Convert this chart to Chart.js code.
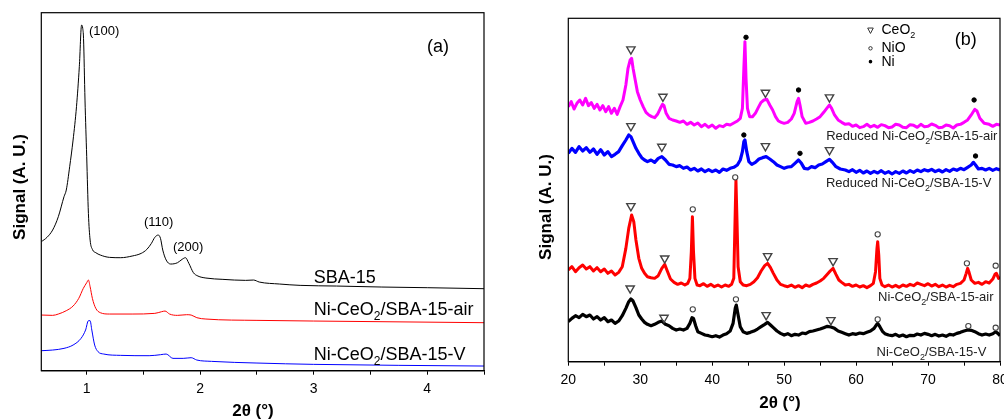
<!DOCTYPE html>
<html><head><meta charset="utf-8">
<script src="https://cdn.jsdelivr.net/npm/chart.js@4.4.0/dist/chart.umd.min.js"></script>
<style>
html,body{margin:0;padding:0;background:#fff;}
#wrap{position:relative;width:1004px;height:420px;overflow:hidden;background:#fff;}
canvas{position:absolute;top:0;}
</style></head><body>
<div id="wrap"><canvas id="ca" width="500" height="420" style="left:0"></canvas><canvas id="cb" width="520" height="420" style="left:500px"></canvas></div>
<script>
// ---------- Panel (a): small-angle XRD ----------
const sba15 = [[0.6,387],[0.65,400],[0.7,422],[0.75,462],[0.8,522],[0.82,542],[0.85,612],[0.88,692],[0.91,792],[0.935,912],[0.955,1037],[0.965,1027],[0.972,997],[0.985,812],[1.0,642],[1.015,472],[1.03,392],[1.05,364],[1.08,354],[1.12,347],[1.2,340],[1.3,339],[1.4,344],[1.48,352],[1.53,364],[1.57,382],[1.6,400],[1.63,407],[1.65,397],[1.67,362],[1.7,332],[1.74,320],[1.8,324],[1.84,334],[1.87,339],[1.9,322],[1.94,294],[1.98,284],[2.05,278],[2.2,274],[2.4,271],[2.47,272],[2.52,266],[2.7,260],[2.88,256],[3.2,254],[3.6,251],[4.0,249],[4.5,246]];
const niAir = [[0.6,167],[0.7,166],[0.75,170],[0.82,180],[0.88,194],[0.93,217],[0.97,247],[1.0,264],[1.015,272],[1.03,252],[1.05,217],[1.08,187],[1.12,174],[1.2,170],[1.4,170],[1.6,172],[1.66,177],[1.69,179],[1.73,170],[1.8,166],[1.88,168],[1.92,167],[1.97,159],[2.05,155],[2.5,151],[3.0,149],[4.5,144]];
const niV = [[0.6,60],[0.7,62],[0.8,67],[0.88,77],[0.95,97],[0.99,122],[1.015,150],[1.03,150],[1.045,122],[1.07,77],[1.1,57],[1.15,50],[1.3,46],[1.55,45],[1.65,48],[1.7,50],[1.76,37],[1.85,37],[1.92,39],[1.97,32],[2.1,28],[2.5,23],[3.0,19],[4.5,14]];

// ---------- Panel (b): wide-angle XRD ----------
const redAirB = [[20.0,765],[20.4,780],[20.8,758],[21.2,775],[21.6,785],[22.0,770],[22.4,790],[22.8,768],[23.2,777],[23.6,760],[24.0,772],[24.4,755],[24.8,768],[25.2,750],[25.6,765],[26.0,745],[26.4,760],[26.8,742],[27.2,765],[27.6,785],[28.0,830],[28.3,880],[28.6,905],[28.8,910],[29.0,880],[29.3,845],[29.6,810],[30.0,785],[30.4,765],[30.8,748],[31.2,740],[31.6,735],[32.0,732],[32.4,742],[32.8,760],[33.1,772],[33.3,768],[33.6,745],[34.0,730],[34.5,725],[35.0,722],[35.5,718],[36.0,722],[36.5,712],[37.0,718],[37.5,710],[38.0,716],[38.5,705],[39.0,712],[39.5,703],[40.0,710],[40.5,700],[41.0,708],[41.5,705],[42.0,712],[42.5,710],[43.0,716],[43.5,722],[43.9,730],[44.2,760],[44.4,880],[44.55,960],[44.7,850],[44.9,760],[45.2,735],[45.6,735],[46.0,745],[46.4,762],[46.8,778],[47.2,785],[47.6,787],[48.0,770],[48.4,755],[48.8,735],[49.2,722],[49.6,718],[50.0,715],[50.5,718],[51.0,728],[51.4,745],[51.8,780],[52.0,790],[52.2,770],[52.5,735],[53.0,715],[53.5,718],[54.0,722],[54.5,728],[55.0,735],[55.5,748],[56.0,762],[56.3,770],[56.6,760],[57.0,740],[57.5,725],[58.0,718],[58.5,712],[59.0,714],[59.5,706],[60.0,710],[60.5,702],[61.0,705],[61.5,712],[62.0,704],[62.5,709],[63.0,703],[63.5,711],[64.0,708],[64.5,702],[65.0,704],[65.5,712],[66.0,710],[66.5,703],[67.0,702],[67.5,711],[68.0,709],[68.5,703],[69.0,712],[69.5,705],[70.0,706],[70.5,713],[71.0,709],[71.5,702],[72.0,703],[72.5,710],[73.0,708],[73.5,701],[74.0,710],[74.5,712],[75.0,718],[75.5,725],[76.0,740],[76.5,757],[76.8,752],[77.2,730],[77.8,715],[78.5,712],[79.0,706],[79.5,712],[80.0,710]];
const redVB = [[20.0,625],[20.5,640],[21.0,628],[21.5,645],[22.0,632],[22.5,642],[23.0,628],[23.5,638],[24.0,622],[24.5,636],[25.0,620],[25.5,630],[26.0,615],[26.5,622],[27.0,630],[27.5,648],[28.0,665],[28.4,680],[28.7,675],[29.0,660],[29.4,640],[29.8,625],[30.2,612],[30.6,605],[31.0,600],[31.5,605],[32.0,598],[32.5,610],[33.0,615],[33.5,605],[34.0,592],[34.5,590],[35.0,585],[35.5,588],[36.0,580],[36.5,584],[37.0,575],[37.5,580],[38.0,572],[38.5,578],[39.0,570],[39.5,576],[40.0,570],[40.5,575],[41.0,568],[41.5,578],[42.0,574],[42.5,580],[43.0,583],[43.5,590],[43.9,605],[44.2,630],[44.4,660],[44.55,665],[44.8,630],[45.1,600],[45.5,592],[46.0,598],[46.5,608],[47.0,612],[47.5,615],[48.0,608],[48.5,600],[49.0,590],[49.5,585],[50.0,580],[50.5,584],[51.0,585],[51.5,595],[52.0,605],[52.4,595],[52.8,580],[53.3,578],[53.8,585],[54.3,582],[54.8,590],[55.3,593],[55.8,600],[56.3,607],[56.7,598],[57.2,585],[57.8,578],[58.5,575],[59.0,570],[59.5,576],[60.0,568],[60.5,574],[61.0,566],[61.5,572],[62.0,565],[62.5,571],[63.0,566],[63.5,573],[64.0,565],[64.5,570],[65.0,563],[65.5,570],[66.0,565],[66.5,572],[67.0,566],[67.5,573],[68.0,568],[68.5,575],[69.0,570],[69.5,576],[70.0,572],[70.5,577],[71.0,570],[71.5,575],[72.0,569],[72.5,576],[73.0,571],[73.5,578],[74.0,574],[74.5,580],[75.0,576],[75.5,583],[76.0,590],[76.3,598],[76.6,590],[77.0,578],[77.5,580],[78.0,575],[78.5,580],[79.0,574],[79.5,579],[80.0,575]];
const airB = [[20.0,275],[20.5,285],[21.0,270],[21.5,282],[22.0,290],[22.5,278],[23.0,285],[23.5,272],[24.0,282],[24.5,270],[25.0,278],[25.5,265],[26.0,272],[26.5,260],[27.0,268],[27.5,285],[28.0,340],[28.4,400],[28.8,440],[29.1,420],[29.4,365],[29.8,310],[30.2,280],[30.6,265],[31.0,255],[31.5,252],[32.0,250],[32.5,258],[33.0,280],[33.4,292],[33.8,270],[34.2,248],[34.7,238],[35.2,232],[35.7,236],[36.2,230],[36.6,235],[36.9,250],[37.1,330],[37.25,435],[37.4,330],[37.6,250],[37.9,230],[38.3,228],[38.8,234],[39.3,226],[39.8,232],[40.3,225],[40.8,230],[41.3,224],[41.8,230],[42.3,226],[42.7,232],[43.0,250],[43.15,400],[43.3,545],[43.45,420],[43.6,285],[43.9,240],[44.3,230],[44.8,228],[45.3,232],[45.8,240],[46.3,252],[46.8,272],[47.3,288],[47.7,295],[48.1,282],[48.5,265],[49.0,245],[49.5,232],[50.0,228],[50.5,225],[51.0,230],[51.5,223],[52.0,228],[52.5,222],[53.0,230],[53.5,226],[54.0,232],[54.5,236],[55.0,242],[55.5,250],[56.0,262],[56.4,272],[56.8,280],[57.2,262],[57.6,245],[58.0,238],[58.5,230],[59.0,232],[59.5,226],[60.0,230],[60.5,224],[61.0,228],[61.5,222],[62.0,228],[62.4,235],[62.7,270],[62.9,340],[63.0,360],[63.15,320],[63.3,250],[63.6,230],[64.0,225],[64.5,230],[65.0,224],[65.5,229],[66.0,223],[66.5,230],[67.0,226],[67.5,232],[68.0,228],[68.5,236],[69.0,232],[69.5,228],[70.0,234],[70.5,227],[71.0,232],[71.5,225],[72.0,230],[72.5,224],[73.0,229],[73.5,225],[74.0,232],[74.5,235],[75.0,245],[75.3,265],[75.5,280],[75.7,268],[76.0,245],[76.5,235],[77.0,238],[77.5,232],[78.0,240],[78.5,236],[79.0,248],[79.3,262],[79.5,265],[79.8,250],[80.0,255]];
const vB = [[20.0,120],[20.5,130],[21.0,138],[21.5,132],[22.0,142],[22.5,135],[23.0,140],[23.5,128],[24.0,135],[24.5,125],[25.0,132],[25.5,120],[26.0,125],[26.5,115],[27.0,122],[27.5,138],[28.0,160],[28.4,180],[28.7,188],[29.0,182],[29.4,162],[29.8,140],[30.2,128],[30.6,118],[31.0,112],[31.5,108],[32.0,112],[32.5,118],[33.0,122],[33.5,112],[34.0,108],[34.5,100],[35.0,95],[35.5,98],[36.0,95],[36.5,100],[36.9,115],[37.2,132],[37.4,130],[37.7,108],[38.0,90],[38.5,85],[39.0,80],[39.5,78],[40.0,75],[40.5,78],[41.0,74],[41.5,80],[42.0,84],[42.5,92],[42.9,115],[43.2,160],[43.35,170],[43.6,140],[43.9,105],[44.3,90],[44.8,85],[45.3,88],[45.8,92],[46.3,98],[46.8,105],[47.3,112],[47.7,118],[48.1,110],[48.5,102],[49.0,92],[49.5,85],[50.0,80],[50.5,84],[51.0,78],[51.5,82],[52.0,80],[52.5,86],[53.0,84],[53.5,90],[54.0,92],[54.5,95],[55.0,98],[55.5,102],[56.0,106],[56.5,104],[57.0,100],[57.5,92],[58.0,88],[58.5,84],[59.0,80],[59.5,84],[60.0,82],[60.5,86],[61.0,84],[61.5,88],[62.0,92],[62.5,100],[62.8,110],[63.0,115],[63.3,105],[63.7,90],[64.0,84],[64.5,80],[65.0,78],[65.5,82],[66.0,76],[66.5,80],[67.0,75],[67.5,79],[68.0,78],[68.5,83],[69.0,80],[69.5,85],[70.0,82],[70.5,78],[71.0,82],[71.5,77],[72.0,80],[72.5,76],[73.0,82],[73.5,80],[74.0,85],[74.5,88],[75.0,92],[75.5,95],[76.0,94],[76.5,90],[77.0,84],[77.5,80],[78.0,83],[78.5,80],[79.0,84],[79.4,90],[79.7,85],[80.0,78]];
// phase markers (2theta, signal)
const ceo2Marks = [[28.7,937],[33.15,795],[47.4,807],[56.3,793],[28.7,707],[33.0,645],[47.4,647],[56.3,635],[28.7,467],[33.4,310],[47.7,317],[56.8,302],[28.6,220],[33.3,132],[47.5,140],[56.5,125]];
const niMarks = [[44.7,973],[52.0,815],[76.4,785],[44.4,680],[52.2,625],[76.6,617]];
const nioMarks = [[37.3,457],[43.2,553],[63.0,382],[75.4,295],[79.4,288],[37.3,157],[43.3,187],[63.0,127],[75.6,107],[79.4,102]];

const FONT = '"Liberation Sans", Arial, Helvetica, sans-serif';
const pts = a => a.map(p => ({x:p[0], y:p[1]}));

function drawRich(ctx, parts, x, y, size, align, color, weight) {
  const sub = Math.round(size*0.66);
  const w = parts.map(p => { ctx.font = (weight||'') + ' ' + (p[1]?sub:size)+'px '+FONT; return ctx.measureText(p[0]).width; });
  const total = w.reduce((a,b)=>a+b,0);
  let cx = align==='right' ? x-total : (align==='center' ? x-total/2 : x);
  ctx.textBaseline='middle'; ctx.textAlign='left'; ctx.fillStyle=color||'#000';
  parts.forEach((p,i)=>{ ctx.font=(weight||'')+' '+(p[1]?sub:size)+'px '+FONT; ctx.fillText(p[0], cx, y + (p[1]?size*0.38:0)); cx+=w[i]; });
}

const frame = {
  id:'frame',
  afterDatasetsDraw(chart){
    const {ctx, chartArea:a} = chart;
    ctx.save(); ctx.strokeStyle='#000'; ctx.lineWidth=1.2;
    ctx.strokeRect(a.left, a.top, a.right-a.left, a.bottom-a.top);
    ctx.restore();
  }
};

const notesA = [
  {t:[['(100)']], x:1.02, y:1019, s:13, al:'left'},
  {t:[['(110)']], x:1.505, y:446, s:13, al:'left'},
  {t:[['(200)']], x:1.76, y:371, s:13, al:'left'},
  {t:[['(a)']], x:3.998, y:972, s:18, al:'left'},
  {t:[['SBA-15']], x:3.0, y:278, s:18, al:'left'},
  {t:[['Ni-CeO'],['2',1],['/SBA-15-air']], x:3.0, y:182, s:18, al:'left'},
  {t:[['Ni-CeO'],['2',1],['/SBA-15-V']], x:3.0, y:47, s:18, al:'left'}
];
const notesB = [
  {t:[['(b)']], x:73.7, y:965, s:18, al:'left'},
  {t:[['CeO'],['2',1]], x:63.53, y:993, s:14, al:'left'},
  {t:[['NiO']], x:63.53, y:940, s:14, al:'left'},
  {t:[['Ni']], x:63.53, y:900, s:14, al:'left'},
  {t:[['Reduced Ni-CeO'],['2',1],['/SBA-15-air']], x:79.64, y:675, s:13, al:'right', c:'#222'},
  {t:[['Reduced Ni-CeO'],['2',1],['/SBA-15-V']], x:78.8, y:535, s:13, al:'right', c:'#222'},
  {t:[['Ni-CeO'],['2',1],['/SBA-15-air']], x:79.1, y:192, s:13, al:'right', c:'#222'},
  {t:[['Ni-CeO'],['2',1],['/SBA-15-V']], x:78.1, y:27, s:13, al:'right', c:'#222'}
];

function notesPlugin(notes, yTitle, xTitle){
  return {
    id:'notes',
    afterDraw(chart){
      const {ctx, scales:{x,y}} = chart;
      ctx.save();
      notes.forEach(n => drawRich(ctx, n.t, x.getPixelForValue(n.x), y.getPixelForValue(n.y), n.s, n.al, n.c||'#000'));
      ctx.save();
      ctx.translate(yTitle.px, yTitle.py); ctx.rotate(-Math.PI/2);
      ctx.font='bold 17px '+FONT; ctx.textAlign='center'; ctx.textBaseline='middle'; ctx.fillStyle='#000';
      ctx.fillText('Signal (A. U.)',0,0);
      ctx.restore();
      ctx.font='bold 17px '+FONT; ctx.textAlign='center'; ctx.textBaseline='middle'; ctx.fillStyle='#000';
      ctx.fillText('2θ (°)', xTitle.px, xTitle.py);
      ctx.restore();
    }
  };
}

const legendB = {
  id:'legendB',
  afterDraw(chart){
    const {ctx, scales:{x,y}} = chart;
    const sx = x.getPixelForValue(62.0);
    const ys = [993,940,900].map(v=>y.getPixelForValue(v));
    ctx.save(); ctx.strokeStyle='#333'; ctx.fillStyle='#000'; ctx.lineWidth=1;
    ctx.beginPath(); ctx.moveTo(sx-2.8, ys[0]-2.6); ctx.lineTo(sx+2.8, ys[0]-2.6); ctx.lineTo(sx, ys[0]+2.8); ctx.closePath(); ctx.stroke();
    ctx.beginPath(); ctx.arc(sx, ys[1], 1.7, 0, Math.PI*2); ctx.stroke();
    ctx.beginPath(); ctx.arc(sx, ys[2], 1.8, 0, Math.PI*2); ctx.fill();
    ctx.restore();
  }
};

function xAxis(min,max,step,labelEvery,height){
  return {
    type:'linear', min, max,
    ticks:{ stepSize:step, includeBounds:false, autoSkip:false, maxRotation:0, padding:6, color:'#000',
      font:{family:FONT, size:14},
      callback:v => (Math.abs(v/labelEvery - Math.round(v/labelEvery))<1e-6) ? String(Math.round(v)) : '' },
    grid:{ drawOnChartArea:false, drawTicks:true, tickLength:4, color:'#000', lineWidth:1 },
    border:{ display:true, color:'#000', width:1.2 },
    afterFit(s){ s.height = height; }
  };
}

Chart.defaults.font.family = FONT;

new Chart(document.getElementById('ca'), {
  type:'line',
  data:{ datasets:[
    {data:pts(sba15), borderColor:'#000', borderWidth:1, pointRadius:0, cubicInterpolationMode:'monotone'},
    {data:pts(niAir), borderColor:'#ff0000', borderWidth:1, pointRadius:0, cubicInterpolationMode:'monotone'},
    {data:pts(niV), borderColor:'#0000ff', borderWidth:1, pointRadius:0, cubicInterpolationMode:'monotone'}
  ]},
  options:{
    responsive:false, animation:false, devicePixelRatio:1,
    layout:{ padding:{left:41.3, right:16, top:12.7, bottom:0} },
    plugins:{ legend:{display:false}, tooltip:{enabled:false} },
    scales:{
      x: xAxis(0.6, 4.5, 0.5, 1, 49.3),
      y: { display:false, min:0, max:1074 }
    }
  },
  plugins:[frame, notesPlugin(notesA, {px:20, py:187}, {px:253, py:411})]
});

const markerDs = (arr, style, r, fill, stroke, bw) => ({
  type:'scatter', data:pts(arr), showLine:false, pointStyle:style, pointRadius:r,
  pointRotation: style==='triangle'?180:0, pointBackgroundColor:fill, pointBorderColor:stroke, pointBorderWidth:bw
});

new Chart(document.getElementById('cb'), {
  type:'line',
  data:{ datasets:[
    markerDs(ceo2Marks, 'triangle', 4.8, 'rgba(255,255,255,0)', '#444', 1.4),
    markerDs(nioMarks, 'circle', 2.6, '#fff', '#444', 1.1),
    markerDs(niMarks, 'circle', 2.2, '#000', '#000', 1),
    {data:pts(redAirB), borderColor:'#ff00ff', borderWidth:3, pointRadius:0, borderJoinStyle:'round'},
    {data:pts(redVB), borderColor:'#0000ff', borderWidth:3.2, pointRadius:0, borderJoinStyle:'round'},
    {data:pts(airB), borderColor:'#ff0000', borderWidth:3, pointRadius:0, borderJoinStyle:'round'},
    {data:pts(vB), borderColor:'#000', borderWidth:3.2, pointRadius:0, borderJoinStyle:'round'}
  ]},
  options:{
    responsive:false, animation:false, devicePixelRatio:1,
    layout:{ padding:{left:68.3, right:20, top:18.3, bottom:0} },
    plugins:{ legend:{display:false}, tooltip:{enabled:false} },
    scales:{
      x: xAxis(20, 80, 5, 10, 58.3),
      y: { display:false, min:0, max:1030 }
    }
  },
  plugins:[frame, legendB, notesPlugin(notesB, {px:46.7, py:207}, {px:280, py:403})]
});
</script>
</body></html>
